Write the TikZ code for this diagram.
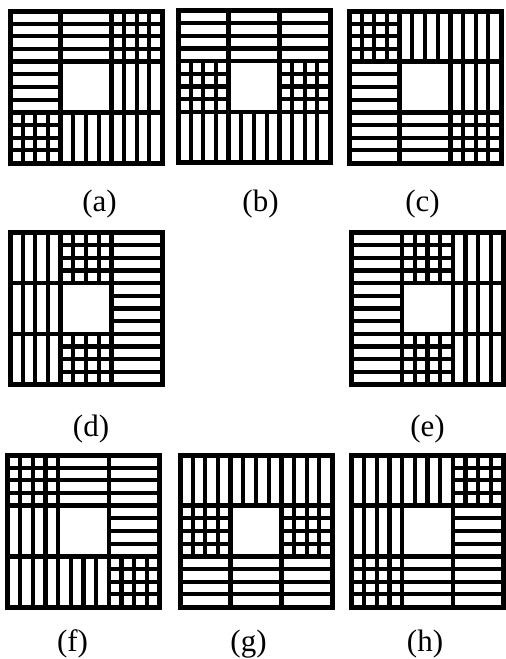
\documentclass[tikz,border=0pt]{standalone}
\usepackage{fontspec}
\setmainfont{Liberation Serif}
\begin{document}
\begin{tikzpicture}[x=1pt,y=-1pt,
  frame/.style={line width=5pt},
  blockline/.style={line width=4.5pt},
  strip/.style={line width=4.2pt},
  lab/.style={anchor=base,inner sep=0pt,font=\fontsize{31}{31}\selectfont}]
\def\S{157}
\def\p{12.6667}
\def\cz{2.5}
\newcommand\drawpanel[3]{%
\begin{scope}[shift={(#1,#2)}]
\foreach \t [count=\i from 0] in {#3} {
  \pgfmathsetmacro\xl{\cz+4*mod(\i,3)*\p}
  \pgfmathsetmacro\yt{\cz+4*floor(\i/3)*\p}
  \pgfmathsetmacro\xr{\xl+4*\p}
  \pgfmathsetmacro\yb{\yt+4*\p}
  \if\t H\foreach \k in {1,2,3} {\draw[strip] (\xl,\yt+\k*\p) -- (\xr,\yt+\k*\p);}\fi
  \if\t V\foreach \k in {1,2,3} {\draw[strip] (\xl+\k*\p,\yt) -- (\xl+\k*\p,\yb);}\fi
  \if\t G\foreach \k in {1,2,3} {\draw[strip] (\xl,\yt+\k*\p) -- (\xr,\yt+\k*\p);
     \draw[strip] (\xl+\k*\p,\yt) -- (\xl+\k*\p,\yb);}\fi
}
\foreach \k in {4,8} {
  \draw[blockline] (\cz,\cz+\k*\p) -- (\S-\cz,\cz+\k*\p);
  \draw[blockline] (\cz+\k*\p,\cz) -- (\cz+\k*\p,\S-\cz);
}
\draw[frame] (\cz,\cz) rectangle (\S-\cz,\S-\cz);
\end{scope}}
\fill[white] (0,0) rectangle (506,659);
\useasboundingbox (0,0) rectangle (506,659);
\drawpanel{7.5}{8.5}{H,H,G,H,E,V,G,V,V}
\drawpanel{175.5}{8}{H,H,H,G,E,G,V,V,V}
\drawpanel{346.5}{8.5}{G,V,V,H,E,V,H,H,G}
\drawpanel{7.5}{230}{V,G,H,V,E,H,V,G,H}
\drawpanel{349}{230}{H,G,V,H,E,V,H,G,V}
\drawpanel{5}{452.5}{G,H,H,V,E,H,V,V,G}
\drawpanel{177.5}{452.5}{V,V,V,G,E,G,H,H,H}
\drawpanel{349}{452.5}{V,V,G,V,E,H,G,H,H}
\node[lab] (la) at (99.5,211.5) {(a)};
\node[lab] (lb) at (260.5,211.5) {(b)};
\node[lab] (lc) at (422.5,211.5) {(c)};
\node[lab] (ld) at (91,436) {(d)};
\node[lab] (le) at (427.5,436) {(e)};
\node[lab] (lf) at (72.5,651.5) {(f)};
\node[lab] (lg) at (248.5,651.5) {(g)};
\node[lab] (lh) at (425,651.5) {(h)};
\end{tikzpicture}
\end{document}
